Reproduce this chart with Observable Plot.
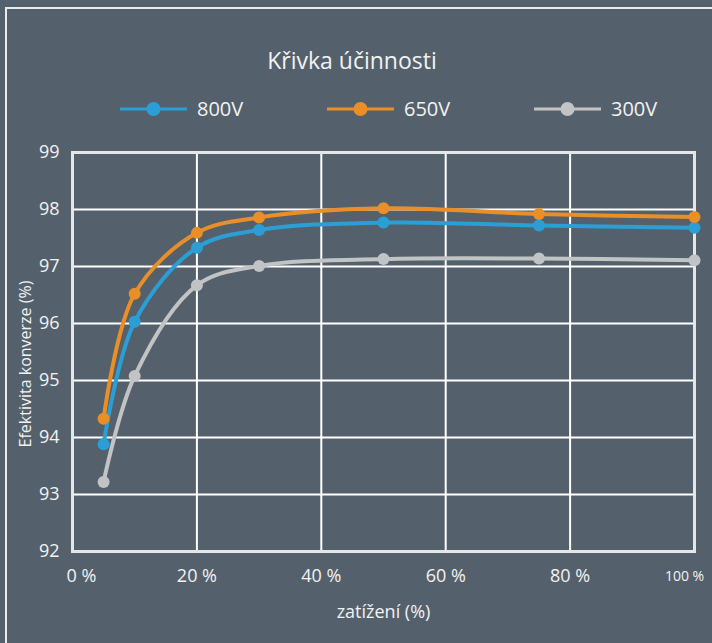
<!DOCTYPE html>
<html>
<head>
<meta charset="utf-8">
<script src="https://cdn.jsdelivr.net/npm/d3@7"></script>
<script src="https://cdn.jsdelivr.net/npm/@observablehq/plot@0.6"></script>
<style>
  html, body { margin: 0; padding: 0; background: #54616c; }
  #wrap { position: relative; width: 712px; height: 643px; background: #54616c; overflow: hidden; font-family: "Open Sans", sans-serif; color: #f2f2f2; }
  #border { position: absolute; left: 5px; top: 7px; right: -10px; bottom: -10px; border-top: 2px solid #e8ecef; border-left: 2px solid #e8ecef; }
  #title { position: absolute; top: 44px; left: 0; width: 704px; text-align: center; font-size: 23px; line-height: 32px; }
  #legend { position: absolute; top: 96px; left: 120px; display: flex; }
  .item { display: flex; align-items: center; width: 207px; font-size: 20px; line-height: 26px; }
  .item svg { margin-right: 10px; }
  #chart { position: absolute; left: 0; top: 130px; }
</style>
</head>
<body>
<div id="wrap">
  <div id="border"></div>
  <div id="title">Křivka účinnosti</div>
  <div id="legend"></div>
  <div id="chart"></div>
</div>
<script>
const loads = [5, 10, 20, 30, 50, 75, 100];
const series = ["800V", "650V", "300V"];
const v800 = [93.88, 96.03, 97.33, 97.64, 97.77, 97.72, 97.68];
const v650 = [94.33, 96.52, 97.59, 97.86, 98.02, 97.92, 97.87];
const v300 = [93.22, 95.08, 96.67, 97.01, 97.13, 97.14, 97.11];
const colors = ["#2b9fd5", "#ea8f27", "#c1c3c5"];
const xTicks = [0, 20, 40, 60, 80, 100];
const yTicks = [92, 93, 94, 95, 96, 97, 98, 99];
const xLabel = "zatížení (%)";
const yLabel = "Efektivita konverze (%)";

const values = [v800, v650, v300];
const data = [];
series.forEach((s, i) => loads.forEach((x, j) => data.push({series: s, load: x, eff: values[i][j]})));

// legend
const legend = document.getElementById("legend");
series.forEach((s, i) => {
  const item = document.createElement("div");
  item.className = "item";
  item.innerHTML = `<svg width="67" height="16"><line x1="0" x2="67" y1="8" y2="8" stroke="${colors[i]}" stroke-width="3"/><circle cx="33.5" cy="8" r="7" fill="${colors[i]}"/></svg><span>${s}</span>`;
  legend.appendChild(item);
});

const fmt = d => d + " %";
const chart = Plot.plot({
  width: 712,
  height: 513,
  marginTop: 22,
  marginBottom: 92,
  marginLeft: 72,
  marginRight: 18,
  style: {background: "transparent", color: "#f2f2f2", fontFamily: "Open Sans", overflow: "visible"},
  x: {domain: [0, 100]},
  y: {domain: [92, 99]},
  color: {domain: series, range: colors},
  marks: [
    Plot.gridX(xTicks, {stroke: "#ffffff", strokeOpacity: 1, strokeWidth: 2}),
    Plot.gridY(yTicks, {stroke: "#ffffff", strokeOpacity: 1, strokeWidth: 2}),
    Plot.frame({stroke: "#e4e6e8", strokeWidth: 3}),
    Plot.axisY(yTicks, {tickSize: 0, tickPadding: 13, fontSize: 18, tickFormat: d => String(d), label: null}),
    Plot.axisX([0], {tickSize: 0, tickPadding: 18, fontSize: 18, tickFormat: fmt, dx: 9, label: null}),
    Plot.axisX([20, 40, 60, 80], {tickSize: 0, tickPadding: 18, fontSize: 18, tickFormat: fmt, label: null}),
    Plot.axisX([100], {tickSize: 0, tickPadding: 20, fontSize: 14, tickFormat: fmt, dx: -10, label: null}),
    Plot.text([yLabel], {frameAnchor: "left", textAnchor: "middle", rotate: -90, dx: -47, dy: 12, fontSize: 16, fill: "#f2f2f2"}),
    Plot.text([xLabel], {frameAnchor: "bottom", textAnchor: "middle", lineAnchor: "middle", dy: 61, fontSize: 18, fill: "#f2f2f2"}),
    Plot.line(data, {x: "load", y: "eff", z: "series", stroke: "series", strokeWidth: 4, curve: "catmull-rom"}),
    Plot.dot(data, {x: "load", y: "eff", fill: "series", r: 6})
  ]
});
document.getElementById("chart").appendChild(chart);
</script>
</body>
</html>
